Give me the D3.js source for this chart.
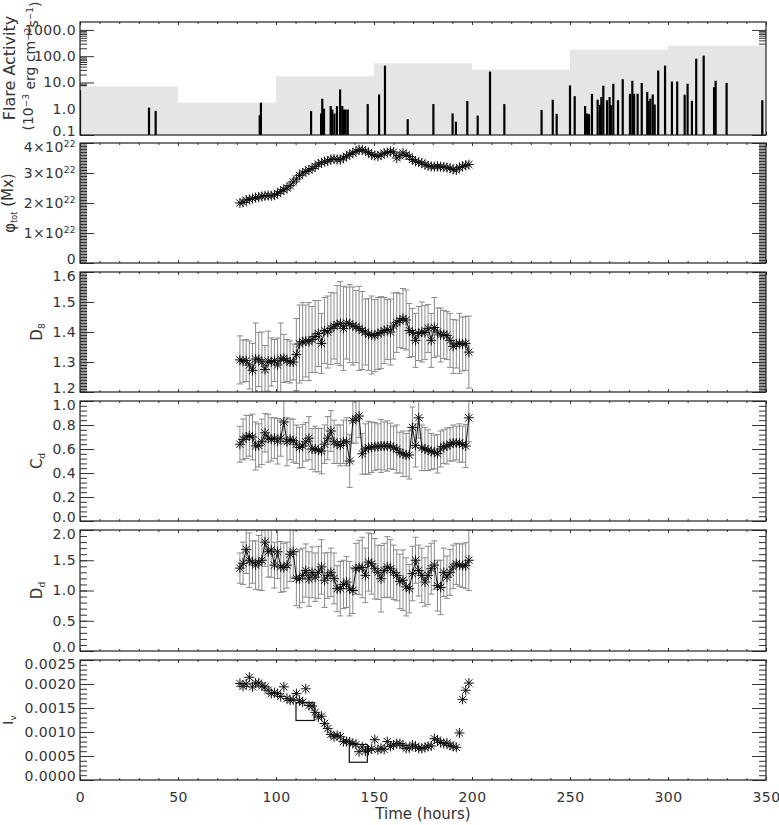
<!DOCTYPE html>
<html><head><meta charset="utf-8">
<script src="https://cdn.jsdelivr.net/npm/d3@7"></script>
<style>
body{margin:0;background:#fff;}
svg text{font-family:"DejaVu Sans",sans-serif;fill:#333;}
</style></head><body>
<svg id="c" width="779" height="825"></svg>
<script>
// ---------------- DATA ----------------
const times = [81.6,83.2,84.8,86.4,88.0,89.6,91.2,92.8,94.4,96.0,
 97.6,99.2,100.8,102.4,104.0,105.6,107.2,108.8,110.4,112.0,
 113.6,115.2,116.8,118.4,120.0,121.6,123.2,124.8,126.4,128.0,
 129.6,131.2,132.8,134.4,136.0,137.6,139.2,140.8,142.4,144.0,
 145.6,147.2,148.8,150.4,152.0,153.6,155.2,156.8,158.4,160.0,
 161.6,163.2,164.8,166.4,168.0,169.6,171.2,172.8,174.4,176.0,
 177.6,179.2,180.8,182.4,184.0,185.6,187.2,188.8,190.4,192.0,
 193.6,195.2,196.8,198.4];

// total flux in units of 10^22 Mx
const phiVals = [2.00,2.02,2.10,2.12,2.15,2.18,2.20,2.22,2.24,2.25,
 2.24,2.26,2.32,2.39,2.44,2.50,2.58,2.70,2.80,2.92,
 3.00,3.05,3.10,3.15,3.22,3.30,3.34,3.38,3.40,3.45,
 3.47,3.45,3.44,3.50,3.56,3.62,3.67,3.72,3.78,3.77,
 3.73,3.68,3.61,3.58,3.56,3.60,3.66,3.68,3.72,3.70,
 3.50,3.58,3.67,3.60,3.55,3.45,3.39,3.36,3.33,3.28,
 3.24,3.22,3.21,3.22,3.21,3.20,3.18,3.16,3.12,3.10,
 3.18,3.22,3.26,3.28];

const d8Vals = [1.307,1.303,1.305,1.290,1.272,1.310,1.308,1.300,1.275,1.303,
 1.300,1.305,1.290,1.310,1.312,1.305,1.300,1.300,1.325,1.360,
 1.368,1.370,1.368,1.375,1.385,1.395,1.362,1.405,1.400,1.412,
 1.420,1.425,1.428,1.412,1.430,1.428,1.420,1.418,1.412,1.405,
 1.400,1.392,1.390,1.388,1.395,1.398,1.405,1.408,1.400,1.420,
 1.432,1.438,1.445,1.440,1.405,1.398,1.372,1.395,1.400,1.398,
 1.412,1.372,1.415,1.400,1.390,1.392,1.388,1.372,1.352,1.360,
 1.362,1.360,1.362,1.333];
const d8Err = [0.08,0.07,0.07,0.08,0.09,0.12,0.09,0.10,0.08,0.10,
 0.08,0.07,0.09,0.12,0.08,0.07,0.07,0.06,0.12,0.13,
 0.13,0.12,0.13,0.11,0.12,0.11,0.10,0.11,0.12,0.12,
 0.11,0.13,0.14,0.14,0.12,0.13,0.13,0.12,0.14,0.13,
 0.11,0.12,0.13,0.12,0.12,0.12,0.11,0.10,0.11,0.11,
 0.10,0.09,0.10,0.10,0.09,0.08,0.09,0.09,0.10,0.09,
 0.08,0.09,0.10,0.08,0.09,0.08,0.08,0.09,0.09,0.08,
 0.10,0.09,0.09,0.12];

const cdVals = [0.64,0.68,0.70,0.71,0.70,0.625,0.63,0.66,0.735,0.69,
 0.68,0.69,0.665,0.69,0.825,0.66,0.68,0.67,0.64,0.612,
 0.625,0.66,0.69,0.60,0.60,0.59,0.583,0.64,0.69,0.75,
 0.66,0.64,0.63,0.66,0.66,0.50,0.835,0.85,0.875,0.56,
 0.60,0.61,0.615,0.62,0.62,0.625,0.625,0.625,0.625,0.61,
 0.60,0.57,0.56,0.55,0.55,0.78,0.63,0.86,0.61,0.60,
 0.59,0.58,0.575,0.56,0.60,0.62,0.625,0.64,0.65,0.65,
 0.65,0.64,0.625,0.86];
const cdErr = [0.15,0.17,0.18,0.17,0.19,0.2,0.18,0.19,0.16,0.2,
 0.18,0.17,0.19,0.15,0.18,0.2,0.17,0.18,0.16,0.17,
 0.18,0.16,0.18,0.17,0.19,0.18,0.19,0.16,0.18,0.17,
 0.18,0.16,0.17,0.18,0.20,0.22,0.19,0.2,0.18,0.17,
 0.21,0.22,0.21,0.2,0.19,0.22,0.2,0.21,0.19,0.18,
 0.2,0.17,0.19,0.18,0.2,0.17,0.18,0.17,0.19,0.18,
 0.17,0.15,0.14,0.16,0.15,0.14,0.15,0.14,0.15,0.14,
 0.16,0.15,0.18,0.20];

const ddVals = [1.37,1.45,1.68,1.50,1.47,1.42,1.46,1.50,1.80,1.64,
 1.67,1.42,1.64,1.39,1.38,1.42,1.60,1.64,1.20,1.195,
 1.25,1.33,1.19,1.30,1.22,1.30,1.39,1.17,1.25,1.30,
 1.20,1.03,1.03,1.10,1.14,1.03,1.00,1.36,1.38,1.38,
 1.25,1.47,1.44,1.36,1.30,1.195,1.33,1.39,1.36,1.30,
 1.25,1.15,1.17,1.06,1.03,1.28,1.50,1.33,1.25,1.14,
 1.25,1.36,1.42,1.08,1.05,1.30,1.22,1.30,1.39,1.44,
 1.42,1.41,1.41,1.50];
const ddErr = [0.25,0.35,0.4,0.45,0.35,0.4,0.45,0.5,0.4,0.42,
 0.45,0.38,0.44,0.42,0.4,0.38,0.45,0.42,0.45,0.48,
 0.45,0.44,0.45,0.42,0.4,0.43,0.45,0.45,0.38,0.4,
 0.42,0.38,0.45,0.4,0.42,0.45,0.38,0.42,0.45,0.5,
 0.45,0.48,0.5,0.5,0.45,0.55,0.45,0.5,0.48,0.45,
 0.42,0.45,0.5,0.48,0.4,0.45,0.38,0.42,0.45,0.4,
 0.48,0.42,0.4,0.42,0.45,0.4,0.35,0.38,0.36,0.34,
 0.35,0.36,0.38,0.5];

const ivVals = [0.00201,0.00195,0.00200,0.00214,0.00194,0.00202,0.00202,0.00196,0.00194,0.00187,
 0.00180,0.00182,0.00180,0.00174,0.00194,0.00170,0.00166,0.00167,0.00180,0.00166,
 0.00162,0.00190,0.00155,0.00154,0.00141,0.00131,0.00133,0.00118,0.00107,0.00095,
 0.00090,0.00093,0.00090,0.00080,0.00080,0.00079,0.00076,0.00074,0.00059,0.00069,
 0.00060,0.00062,0.00065,0.00084,0.00063,0.00066,0.00064,0.00080,0.00070,0.00073,
 0.00076,0.00076,0.00072,0.00066,0.00067,0.00073,0.00070,0.00066,0.00066,0.00068,
 0.00070,0.00071,0.00086,0.00083,0.00078,0.00076,0.00077,0.00072,0.00070,0.00068,
 0.00098,0.00168,0.00187,0.00202];
// boxes: [t0, t1, v0, v1]
const ivBoxes = [[110.2,119.5,0.00124,0.00161],[137.4,146.6,0.00037,0.00074]];

const flareTimes = [0,35.2,38.6,91.7,92.3,117.9,123.0,123.6,124.5,127.9,
 128.7,129.8,131.1,132.7,133.8,134.7,135.5,136.6,146.8,152.6,
 155.6,167.2,180.3,190.1,191.8,197.6,202.9,209.2,216.5,235.5,
 241.2,243.2,250.0,252.4,257.7,258.7,259.7,261.2,264.1,265.3,
 266.0,267.0,268.9,270.2,270.9,272.1,274.5,276.9,280.6,281.8,
 282.7,284.5,286.6,289.4,290.1,291.0,292.2,293.2,295.0,298.5,
 302.0,304.7,308.5,310.0,312.2,314.4,318.2,323.5,324.3,329.9,348.1];
const flareVals = [5.0,1.1,0.83,0.57,1.7,0.81,0.66,2.4,1.0,1.27,
 0.93,0.66,1.27,5.4,1.27,0.93,0.93,0.93,1.5,3.5,
 43.7,0.40,1.5,0.66,0.32,1.97,0.55,26,1.5,0.9,
 2.2,0.64,7.7,3.0,1.27,0.66,0.62,3.7,2.2,1.4,
 2.8,7.5,2.1,2.8,1.36,8.9,2.1,13.3,3.7,11.6,
 3.7,3.7,9.6,4.4,1.97,2.4,3.5,1.45,28.5,43.7,
 10.9,10.9,3.4,8.9,2.0,80,105,6.6,11.6,9.6,2.1];
const stepStart = [0,50,100,150,200,250,300];
const stepEnd   = [50,100,150,200,250,300,350];
const stepVals  = [7.1,1.7,17.3,53.6,31,176,249];

const xMajor = [0,50,100,150,200,250,300,350];
const flareTicks = [0.1,1,10,100,1000];
const phiTicks = [0,1,2,3,4];
const d8Ticks = [1.2,1.3,1.4,1.5,1.6];
const cdTicks = [0.0,0.2,0.4,0.6,0.8,1.0];
const ddTicks = [0.0,0.5,1.0,1.5,2.0];
const ivTicks = [0,0.0005,0.001,0.0015,0.002,0.0025];

// ---------------- LAYOUT ----------------
const svg = d3.select("#c");
const L = 80, R = 766;
const tops = [22,143,272,401,530,660];
const bots = [135,263,392,521,651,780];
const x = d3.scaleLinear().domain([0,350]).range([L,R]);
const xMinor = d3.range(0,351,10).filter(v=>v%50!==0);
const FONT = '"DejaVu Sans",sans-serif';
const NUDGE = 4;

function style(g){
  g.select(".domain").remove();
  g.selectAll("line").attr("stroke","#333").attr("stroke-width",1);
  g.selectAll("text").attr("font-family",FONT).attr("font-size",14).attr("fill","#333")
    .attr("letter-spacing","0.4");
  g.attr("font-family",null).attr("font-size",null);
}

function drawTicks(g, i, y, majors, minors, fmt, labelsOnX){
  const top = tops[i], bot = bots[i];
  const dom = y.domain();
  // left
  g.append("g").attr("transform",`translate(${L},0)`)
    .call(d3.axisLeft(y).tickValues(majors).tickSize(-14).tickPadding(4).tickFormat(fmt)).call(style)
    .call(gg => gg.selectAll(".tick text").attr("y", d =>
        Math.abs(d-dom[0]) < 1e-12 ? -NUDGE : (Math.abs(d-dom[1]) < 1e-12 ? NUDGE : 0)));
  g.append("g").attr("transform",`translate(${L},0)`)
    .call(d3.axisLeft(y).tickValues(minors).tickSize(-7).tickFormat("")).call(style);
  // right
  g.append("g").attr("transform",`translate(${R},0)`)
    .call(d3.axisRight(y).tickValues(majors).tickSize(-14).tickFormat("")).call(style);
  g.append("g").attr("transform",`translate(${R},0)`)
    .call(d3.axisRight(y).tickValues(minors).tickSize(-7).tickFormat("")).call(style);
  // top
  g.append("g").attr("transform",`translate(0,${top})`)
    .call(d3.axisTop(x).tickValues(xMajor).tickSize(-3).tickFormat("")).call(style);
  g.append("g").attr("transform",`translate(0,${top})`)
    .call(d3.axisTop(x).tickValues(xMinor).tickSize(-2).tickFormat("")).call(style);
  // bottom
  g.append("g").attr("transform",`translate(0,${bot})`)
    .call(d3.axisBottom(x).tickValues(xMajor).tickSize(-3).tickPadding(12)
      .tickFormat(labelsOnX ? d3.format("d") : "")).call(style);
  g.append("g").attr("transform",`translate(0,${bot})`)
    .call(d3.axisBottom(x).tickValues(xMinor).tickSize(-2).tickFormat("")).call(style);
}

function frame(i){
  svg.append("rect").attr("x",L).attr("y",tops[i]).attr("width",R-L).attr("height",bots[i]-tops[i])
    .attr("fill","none").attr("stroke","#222").attr("stroke-width",1.2);
}

function clip(i){
  const id = "clip"+i;
  svg.append("clipPath").attr("id",id).append("rect")
    .attr("x",L).attr("y",tops[i]).attr("width",R-L).attr("height",bots[i]-tops[i]);
  return `url(#${id})`;
}

const r = 5, a = r*0.72;
const star = `M${-r},0H${r}M0,${-r}V${r}M${-a},${-a}L${a},${a}M${-a},${a}L${a},${-a}`;

function series(i, y, vals, errs, withLine){
  const g = svg.append("g").attr("clip-path", clip(i));
  const data = times.map((t,k)=>({t, v:vals[k], e: errs ? errs[k] : 0}));
  if (errs){
    const eg = g.append("g").attr("stroke","#8a8a8a").attr("stroke-width",1).attr("fill","none");
    eg.selectAll("path").data(data).join("path")
      .attr("d", d => {
        const cx = x(d.t), y1 = y(d.v + d.e), y0 = y(d.v - d.e);
        return `M${cx},${y0}V${y1}M${cx-3},${y1}H${cx+3}M${cx-3},${y0}H${cx+3}`;
      });
  }
  if (withLine){
    g.append("path").datum(data)
      .attr("d", d3.line().x(d=>x(d.t)).y(d=>y(d.v)))
      .attr("fill","none").attr("stroke","#111").attr("stroke-width",1);
  }
  g.append("g").selectAll("path").data(data).join("path")
    .attr("d", star).attr("transform", d=>`translate(${x(d.t)},${y(d.v)})`)
    .attr("fill","none").attr("stroke","#111").attr("stroke-width",1);
  return g;
}

function minorRange(lo, hi, step){
  const out = [];
  const n = Math.round((hi-lo)/step);
  for (let k=0;k<=n;k++) out.push(+(lo+k*step).toFixed(8));
  return out;
}

// ---------- Panel 0: Flare activity ----------
{
  const i = 0;
  const y = d3.scaleLog().domain([0.1,2000]).range([bots[i],tops[i]]);
  const minors = [];
  [0.1,1,10,100,1000].forEach(b=>{ for(let k=2;k<=9;k++){ const v=b*k; if(v<2000) minors.push(v);} });
  const g = svg.append("g");
  drawTicks(g, i, y, flareTicks, minors, d3.format(".1f"), false);
  const cg = svg.append("g").attr("clip-path", clip(i));
  cg.selectAll("rect.step").data(stepVals).join("rect")
    .attr("x",(d,k)=>x(stepStart[k])).attr("width",(d,k)=>x(stepEnd[k])-x(stepStart[k]))
    .attr("y",d=>y(d)).attr("height",d=>bots[i]-y(d)).attr("fill","#e5e5e5");
  cg.selectAll("line.bar").data(flareVals).join("line")
    .attr("x1",(d,k)=>x(flareTimes[k])).attr("x2",(d,k)=>x(flareTimes[k]))
    .attr("y1",bots[i]).attr("y2",d=>y(d)).attr("stroke","#000").attr("stroke-width",2.2);
  frame(i);
  svg.append("text").attr("transform","translate(15,68) rotate(-90)").attr("text-anchor","middle")
    .attr("font-size",16).text("Flare Activity");
  const t2 = svg.append("text").attr("transform","translate(33,66) rotate(-90)").attr("text-anchor","middle")
    .attr("font-size",14);
  t2.append("tspan").text("(10");
  t2.append("tspan").attr("dy","-0.45em").attr("font-size",9).text("−3");
  t2.append("tspan").attr("dy","0.45em").text(" erg cm");
  t2.append("tspan").attr("dy","-0.45em").attr("font-size",9).text("−2");
  t2.append("tspan").attr("dy","0.45em").text("s");
  t2.append("tspan").attr("dy","-0.45em").attr("font-size",9).text("−1");
  t2.append("tspan").attr("dy","0.45em").text(")");
}

// ---------- Panel 1: phi_tot ----------
{
  const i = 1;
  const y = d3.scaleLinear().domain([0,4]).range([bots[i],tops[i]]);
  const g = svg.append("g");
  drawTicks(g, i, y, phiTicks, minorRange(0,4,0.05), "", false);
  phiTicks.forEach(v=>{
    const nud = v===0 ? -NUDGE : (v===4 ? NUDGE : 0);
    const t = svg.append("text").attr("x",76).attr("y",y(v)+nud).attr("dy","0.35em")
      .attr("text-anchor","end").attr("font-size",14).attr("letter-spacing","0.4");
    if (v===0) { t.text("0"); }
    else {
      t.append("tspan").text(v+"×10");
      t.append("tspan").attr("dy","-0.5em").attr("font-size",9).text("22");
    }
  });
  series(i, y, phiVals, null, true);
  frame(i);
  const lab = svg.append("text").attr("transform",`translate(15,${(tops[i]+bots[i])/2}) rotate(-90)`)
    .attr("text-anchor","middle").attr("font-size",15);
  lab.append("tspan").text("φ");
  lab.append("tspan").attr("dy","0.3em").attr("font-size",8).text("tot");
  lab.append("tspan").attr("dy","-0.3em").text(" (Mx)");
}

// ---------- Panel 2: D8 ----------
{
  const i = 2;
  const y = d3.scaleLinear().domain([1.2,1.6]).range([bots[i],tops[i]]);
  const g = svg.append("g");
  drawTicks(g, i, y, d8Ticks, minorRange(1.2,1.6,0.005), d3.format(".1f"), false);
  series(i, y, d8Vals, d8Err, true);
  frame(i);
  const lab = svg.append("text").attr("transform",`translate(42,${(tops[i]+bots[i])/2}) rotate(-90)`)
    .attr("text-anchor","middle").attr("font-size",15);
  lab.append("tspan").text("D");
  lab.append("tspan").attr("dy","0.35em").attr("font-size",9).text("8");
}

// ---------- Panel 3: Cd ----------
{
  const i = 3;
  const y = d3.scaleLinear().domain([0,1]).range([bots[i],tops[i]]);
  const g = svg.append("g");
  drawTicks(g, i, y, cdTicks, minorRange(0,1,0.04), d3.format(".1f"), false);
  series(i, y, cdVals, cdErr, true);
  frame(i);
  const lab = svg.append("text").attr("transform",`translate(42,${(tops[i]+bots[i])/2}) rotate(-90)`)
    .attr("text-anchor","middle").attr("font-size",15);
  lab.append("tspan").text("C");
  lab.append("tspan").attr("dy","0.35em").attr("font-size",9).text("d");
}

// ---------- Panel 4: Dd ----------
{
  const i = 4;
  const y = d3.scaleLinear().domain([0,2]).range([bots[i],tops[i]]);
  const g = svg.append("g");
  drawTicks(g, i, y, ddTicks, minorRange(0,2,0.1), d3.format(".1f"), false);
  series(i, y, ddVals, ddErr, true);
  frame(i);
  const lab = svg.append("text").attr("transform",`translate(42,${(tops[i]+bots[i])/2}) rotate(-90)`)
    .attr("text-anchor","middle").attr("font-size",15);
  lab.append("tspan").text("D");
  lab.append("tspan").attr("dy","0.35em").attr("font-size",9).text("d");
}

// ---------- Panel 5: Iv ----------
{
  const i = 5;
  const y = d3.scaleLinear().domain([0,0.0025]).range([bots[i],tops[i]]);
  const g = svg.append("g");
  drawTicks(g, i, y, ivTicks, minorRange(0,0.0025,0.0001), d3.format(".4f"), true);
  series(i, y, ivVals, null, false);
  svg.append("g").selectAll("rect").data(ivBoxes).join("rect")
    .attr("x",d=>x(d[0])).attr("width",d=>x(d[1])-x(d[0]))
    .attr("y",d=>y(d[3])).attr("height",d=>y(d[2])-y(d[3]))
    .attr("fill","none").attr("stroke","#111").attr("stroke-width",1.2);
  frame(i);
  const lab = svg.append("text").attr("transform",`translate(13,${(tops[i]+bots[i])/2}) rotate(-90)`)
    .attr("text-anchor","middle").attr("font-size",14);
  lab.append("tspan").text("I");
  lab.append("tspan").attr("dy","0.35em").attr("font-size",9).text("v");
  svg.append("text").attr("x",(L+R)/2).attr("y",819).attr("text-anchor","middle")
    .attr("font-size",15).text("Time (hours)");
}
</script>
</body></html>
